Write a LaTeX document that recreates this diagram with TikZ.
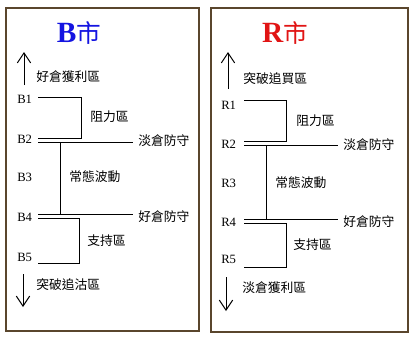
\documentclass[tikz,border=0pt]{standalone}
\usepackage{fontspec}
\setmainfont{Liberation Serif}
\newfontfamily\cjk{Noto Sans CJK TC}
\usetikzlibrary{arrows.meta}
\definecolor{framebrown}{RGB}{90,70,45}
\definecolor{titleblue}{RGB}{20,20,225}
\definecolor{titlered}{RGB}{225,20,20}
\begin{document}
\begin{tikzpicture}[x=0.75pt,y=-0.75pt,
  panel/.style={draw=framebrown, line width=0.9pt},
  lbl/.style={font=\fontsize{9.5}{10}\selectfont, inner sep=0pt, anchor=west},
  cjklbl/.style={font=\cjk\fontsize{9.6}{11}\selectfont, inner sep=0pt, anchor=west},
  ttl/.style={font=\bfseries\fontsize{22}{24}\selectfont, inner sep=0pt},
  ttlcjk/.style={font=\cjk\fontsize{18.5}{20}\selectfont},
  ln/.style={draw=black, line width=0.75pt},
  arr/.style={draw=black, line width=0.75pt, -{Straight Barb[length=7.5pt,width=10pt]}}]
\useasboundingbox (0,0) rectangle (415,340);
\fill[white] (0,0) rectangle (415,340);
% panels
\draw[panel] (6,8) rectangle (199,331);
\draw[panel] (211,8) rectangle (408,332);

% ---------- left panel ----------
\node[ttl, text=titleblue] (tB) at (79,33) {B{\cjk\mdseries\fontsize{18.5}{20}\selectfont 市}};
\coordinate (bua) at (24,85); \coordinate (bub) at (24,52);
\draw[arr] (bua) -- (bub);
\node[cjklbl] (bup) at (36,77) {好倉獲利區};
\node[lbl] (b1) at (17,99) {B1};
\node[lbl] (b2) at (17,139) {B2};
\node[lbl] (b3) at (17,177) {B3};
\node[lbl] (b4) at (17,217) {B4};
\node[lbl] (b5) at (17,257) {B5};
\coordinate (b1a) at (38,97); \coordinate (b1b) at (81,97);
\coordinate (b2a) at (81,138); \coordinate (b2b) at (38,138);
\coordinate (b2c) at (38,142); \coordinate (b2d) at (133,142);
\coordinate (bva) at (60,142); \coordinate (bvb) at (60,214);
\coordinate (b4a) at (38,214); \coordinate (b4b) at (133,214);
\coordinate (b4c) at (38,218); \coordinate (b4d) at (79,218);
\coordinate (b5a) at (79,263); \coordinate (b5b) at (38,263);
\draw[ln] (b1a) -- (b1b) -- (b2a) -- (b2b);
\draw[ln] (b2c) -- (b2d);
\draw[ln] (bva) -- (bvb);
\draw[ln] (b4a) -- (b4b);
\draw[ln] (b4c) -- (b4d) -- (b5a) -- (b5b);
\node[cjklbl] (bres) at (90,117) {阻力區};
\node[cjklbl] (bdef1) at (138,141) {淡倉防守};
\node[cjklbl] (bnorm) at (69,177) {常態波動};
\node[cjklbl] (bdef2) at (138,217) {好倉防守};
\node[cjklbl] (bsup) at (87,241) {支持區};
\coordinate (bda) at (23,274); \coordinate (bdb) at (23,307);
\draw[arr] (bda) -- (bdb);
\node[cjklbl] (bdn) at (36,285) {突破追沽區};

% ---------- right panel ----------
\node[ttl, text=titlered] (tR) at (285,33) {R{\cjk\mdseries\fontsize{18.5}{20}\selectfont 市}};
\coordinate (rua) at (228,89); \coordinate (rub) at (228,52);
\draw[arr] (rua) -- (rub);
\node[cjklbl] (rup) at (243,79) {突破追買區};
\node[lbl] (r1) at (221,105) {R1};
\node[lbl] (r2) at (221,144) {R2};
\node[lbl] (r3) at (221,183) {R3};
\node[lbl] (r4) at (221,222) {R4};
\node[lbl] (r5) at (221,259) {R5};
\coordinate (r1a) at (244,100); \coordinate (r1b) at (286,100);
\coordinate (r2a) at (286,141); \coordinate (r2b) at (244,141);
\coordinate (r2c) at (244,145); \coordinate (r2d) at (338,145);
\coordinate (rva) at (266,145); \coordinate (rvb) at (266,219);
\coordinate (r4a) at (244,219); \coordinate (r4b) at (338,219);
\coordinate (r4c) at (244,223); \coordinate (r4d) at (286,223);
\coordinate (r5a) at (286,267); \coordinate (r5b) at (244,267);
\draw[ln] (r1a) -- (r1b) -- (r2a) -- (r2b);
\draw[ln] (r2c) -- (r2d);
\draw[ln] (rva) -- (rvb);
\draw[ln] (r4a) -- (r4b);
\draw[ln] (r4c) -- (r4d) -- (r5a) -- (r5b);
\node[cjklbl] (rres) at (296,121) {阻力區};
\node[cjklbl] (rdef1) at (343,145) {淡倉防守};
\node[cjklbl] (rnorm) at (275,183) {常態波動};
\node[cjklbl] (rdef2) at (343,222) {好倉防守};
\node[cjklbl] (rsup) at (293,245) {支持區};
\coordinate (rda) at (226,277); \coordinate (rdb) at (226,311);
\draw[arr] (rda) -- (rdb);
\node[cjklbl] (rdn) at (242,288) {淡倉獲利區};
\end{tikzpicture}
\end{document}
